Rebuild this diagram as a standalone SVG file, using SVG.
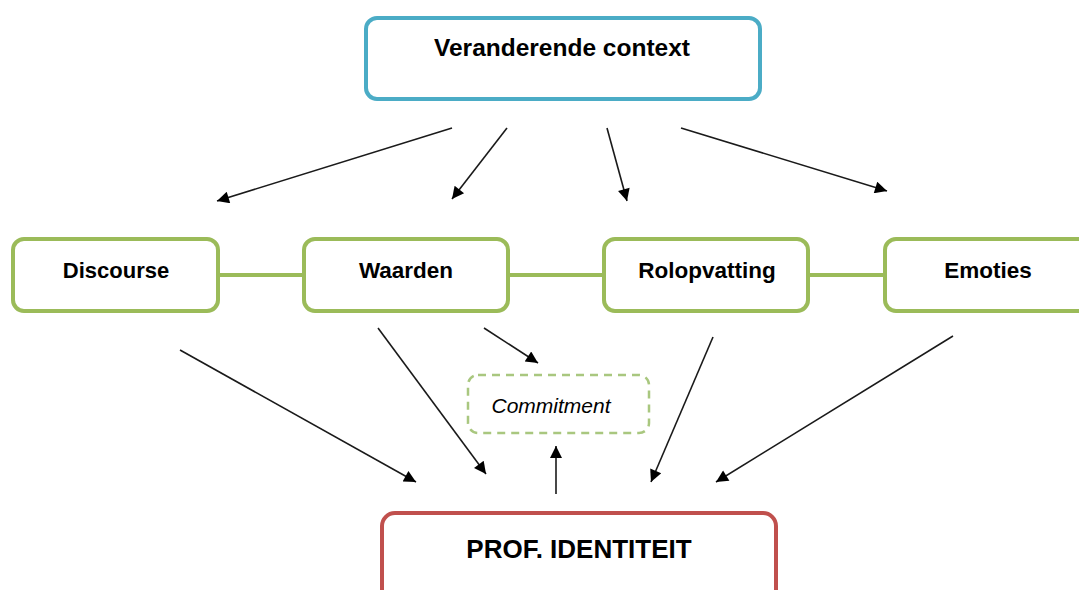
<svg xmlns="http://www.w3.org/2000/svg" width="1079" height="590" viewBox="0 0 1079 590">
<defs>
<marker id="ah" viewBox="0 0 10 10" refX="10" refY="5" markerWidth="15" markerHeight="12" markerUnits="userSpaceOnUse" orient="auto">
<path d="M0,0 L10,5 L0,10 z" fill="#000"/>
</marker>
<style>
.lbl{font-family:"Liberation Sans",Arial,sans-serif;font-weight:bold;fill:#000;text-anchor:middle}
.g{fill:#fff;stroke:#9BBB59;stroke-width:4}
.arr{stroke:#1a1a1a;stroke-width:1.6;fill:none;marker-end:url(#ah)}
.link{stroke:#9BBB59;stroke-width:4}
</style>
</defs>
<rect width="1079" height="590" fill="#fff"/>
<g id="connectors">
<line class="link" x1="218" y1="275" x2="303" y2="275"/>
<line class="link" x1="508" y1="275" x2="603" y2="275"/>
<line class="link" x1="808" y1="275" x2="884" y2="275"/>
<line class="arr" x1="452" y1="128" x2="217" y2="201"/>
<line class="arr" x1="507" y1="128" x2="452" y2="199"/>
<line class="arr" x1="607" y1="128" x2="627" y2="201"/>
<line class="arr" x1="681" y1="128" x2="887" y2="191"/>
<line class="arr" x1="180" y1="350" x2="416" y2="482"/>
<line class="arr" x1="378" y1="328" x2="486" y2="474"/>
<line class="arr" x1="484" y1="328" x2="538" y2="363"/>
<line class="arr" x1="713" y1="337" x2="651" y2="482"/>
<line class="arr" x1="953" y1="336" x2="716" y2="482"/>
<line class="arr" x1="556" y1="494" x2="556" y2="446"/>
</g>
<g id="context">
<rect x="366" y="18" width="394" height="81" rx="11" fill="#fff" stroke="#4BACC6" stroke-width="4"/>
<text class="lbl" x="562" y="56" font-size="24.5">Veranderende context</text>
</g>
<g id="discourse">
<rect class="g" x="13" y="239" width="205" height="72" rx="11"/>
<text class="lbl" x="116" y="278" font-size="22">Discourse</text>
</g>
<g id="waarden">
<rect class="g" x="304" y="239" width="204" height="72" rx="11"/>
<text class="lbl" x="406" y="278" font-size="22.5">Waarden</text>
</g>
<g id="rolopvatting">
<rect class="g" x="604" y="239" width="204" height="72" rx="11"/>
<text class="lbl" x="707" y="278" font-size="22.5">Rolopvatting</text>
</g>
<g id="emoties">
<rect class="g" x="885" y="239" width="205" height="72" rx="11"/>
<text class="lbl" x="988" y="278" font-size="22.5">Emoties</text>
</g>
<g id="commitment">
<rect x="468" y="375" width="181" height="58" rx="10" fill="#fff" stroke="#A9C77F" stroke-width="2.5" stroke-dasharray="8,6"/>
<text x="551" y="413" font-family="Liberation Sans,Arial,sans-serif" font-style="italic" font-size="21" text-anchor="middle" fill="#000">Commitment</text>
</g>
<g id="prof">
<rect x="382" y="513" width="394" height="100" rx="13" fill="#fff" stroke="#C0504D" stroke-width="4"/>
<text class="lbl" x="579" y="558" font-size="26">PROF. IDENTITEIT</text>
</g>
</svg>
